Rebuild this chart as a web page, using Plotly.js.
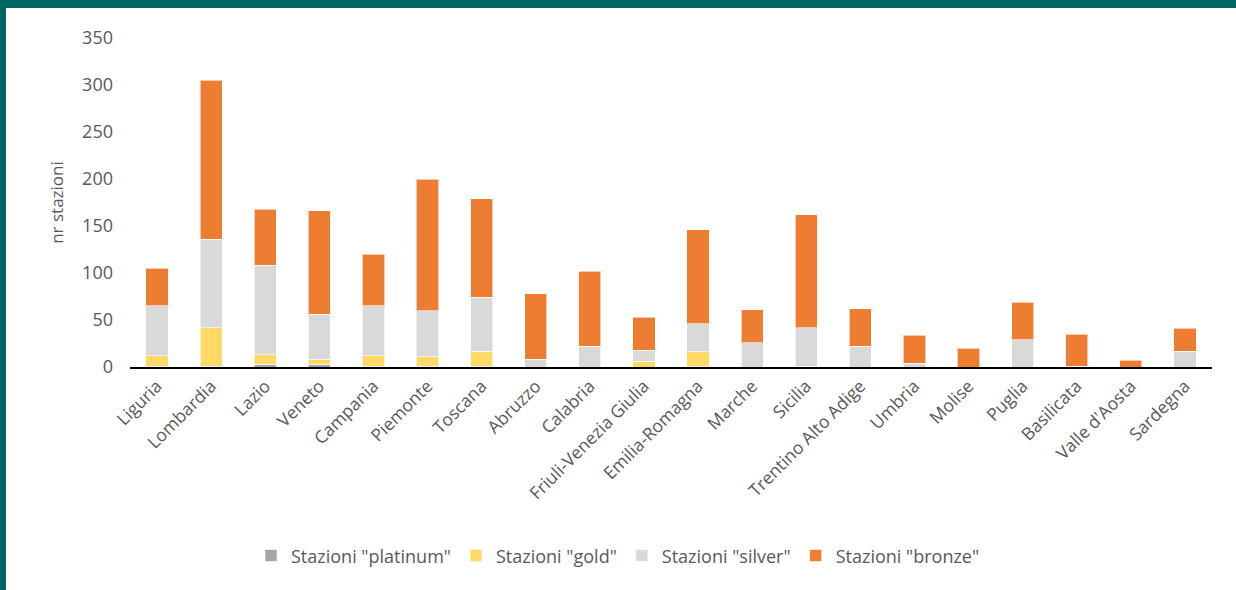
<!DOCTYPE html>
<html>
<head>
<meta charset="utf-8">
<script src="https://cdn.plot.ly/plotly-3.0.1.min.js"></script>
<style>
  html, body { margin: 0; padding: 0; background: #ffffff; }
  #wrap { position: relative; width: 1236px; height: 590px; overflow: hidden; }
  #chart { position: absolute; left: 0; top: 0; width: 1236px; height: 590px; }
  #bandTop { position: absolute; left: 0; top: 0; width: 1236px; height: 8px; background: #006666; }
  #bandLeft { position: absolute; left: 0; top: 0; width: 6px; height: 590px; background: #006666; }
</style>
</head>
<body>
<div id="wrap">
  <div id="chart"></div>
  <div id="bandTop"></div>
  <div id="bandLeft"></div>
</div>
<script>
const regions = ["Liguria","Lombardia","Lazio","Veneto","Campania","Piemonte","Toscana","Abruzzo","Calabria","Friuli-Venezia Giulia","Emilia-Romagna","Marche","Sicilia","Trentino Alto Adige","Umbria","Molise","Puglia","Basilicata","Valle d'Aosta","Sardegna"];
const platinum = [1, 1, 3, 3, 1, 1, 1, 0, 0, 0, 1, 0, 0, 0, 0, 0, 0, 0, 0, 0];
const gold     = [11, 41, 10, 5, 11, 10, 16, 0, 0, 6, 15, 0, 1, 0, 0, 0, 0, 0, 0, 0];
const silver   = [53, 94, 95, 48, 53, 49, 57, 8, 22, 12, 30, 26, 41, 22, 4, 0, 29, 1, 0, 17];
const bronze   = [40, 169, 60, 110, 55, 140, 105, 70, 80, 35, 100, 35, 120, 40, 30, 20, 40, 34, 7, 24];
const seriesNames = ['Stazioni "platinum"', 'Stazioni "gold"', 'Stazioni "silver"', 'Stazioni "bronze"'];
const yTicks = [0, 50, 100, 150, 200, 250, 300, 350];

const colors = ["#A5A5A5", "#FFD966", "#D9D9D9", "#ED7D31"];
const values = [platinum, gold, silver, bronze];
const fontFam = '"Open Sans", "Noto Sans", sans-serif';

const traces = values.map((v, i) => ({
  type: "bar",
  name: seriesNames[i],
  x: regions,
  y: v,
  marker: { color: colors[i], line: { color: "rgba(255,255,255,0.6)", width: 1 } },
  hoverinfo: "x+y+name"
}));

const layout = {
  width: 1236,
  height: 590,
  margin: { l: 130, r: 24, t: 38, b: 223 },
  paper_bgcolor: "#ffffff",
  plot_bgcolor: "#ffffff",
  barmode: "stack",
  bargap: 0.59,
  font: { family: fontFam, color: "#595959", size: 16 },
  xaxis: {
    type: "category",
    tickangle: -45,
    showgrid: false,
    zeroline: false,
    showline: true,
    linecolor: "#000000",
    linewidth: 2,
    ticks: "",
    tickfont: { family: fontFam, size: 17.5, color: "#595959" }
  },
  yaxis: {
    range: [0, 350],
    tickvals: yTicks,
    ticktext: yTicks.map(String),
    showgrid: false,
    zeroline: false,
    showline: false,
    ticks: "",
    ticklabelstandoff: 16,
    tickfont: { family: fontFam, size: 18, color: "#595959" },
    title: { text: "nr stazioni", font: { family: fontFam, size: 17, color: "#595959" }, standoff: 14 }
  },
  legend: {
    orientation: "h",
    xref: "container",
    yref: "container",
    x: 0.5,
    xanchor: "center",
    y: 0.058,
    yanchor: "middle",
    font: { family: fontFam, size: 18, color: "#595959" },
    itemwidth: 30,
    traceorder: "normal"
  },
  showlegend: true
};

Plotly.newPlot("chart", traces, layout, { displayModeBar: false, staticPlot: true });
</script>
</body>
</html>
